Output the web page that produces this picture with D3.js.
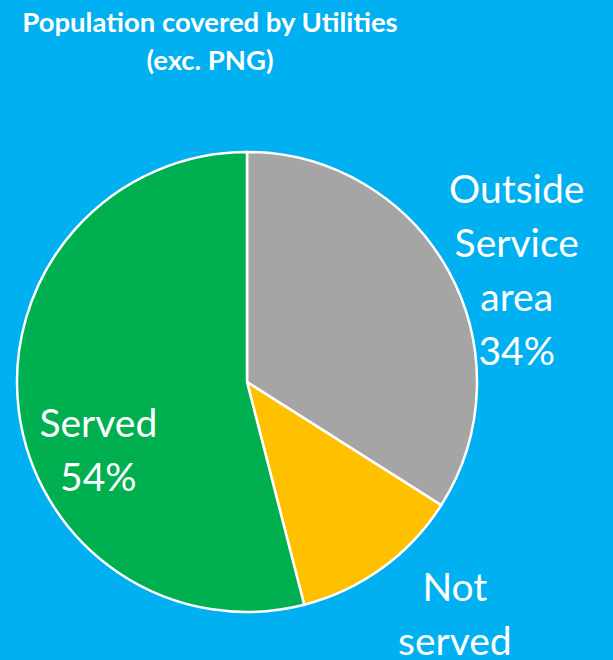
<!DOCTYPE html>
<head>
<meta charset="utf-8">
<title>Population covered by Utilities</title>
<style>
    body {
        margin: 0;
        background: #00b0f0;
    }

    .title {
        fill: white;
        font: bold 27.5px Lato, sans-serif;
        text-anchor: middle;
    }

    .label text {
        fill: white;
        font: 39px Lato, sans-serif;
        text-anchor: middle;
    }

    .slice {
        stroke: white;
        stroke-width: 2.5px;
    }
</style>
</head>
<body>
<svg></svg>
<script src="https://cdn.jsdelivr.net/npm/d3@7"></script>
<script>

    // data
    var categories = ["Outside Service area", "Not served", "Served"];
    var values = [34, 12, 54];
    var colors = ["#a5a5a5", "#ffc000", "#00b050"];
    var labelLines = [
        ["Outside", "Service", "area", "34%"],
        ["Not", "served", "12%"],
        ["Served", "54%"]
    ];
    var titleLines = ["Population covered by Utilities", "(exc. PNG)"];

    var width = 613, height = 660;

    var svg = d3.select("svg")
        .attr("width", width)
        .attr("height", height);

    svg.append("rect")
        .attr("width", width)
        .attr("height", height)
        .attr("fill", "#00b0f0");

    svg.selectAll(".title")
        .data(titleLines)
        .enter().append("text")
        .attr("class", "title")
        .attr("x", 210)
        .attr("y", function (d, i) { return 32 + i * 38; })
        .text(function (d) { return d; });

    var cx = 247, cy = 382, radius = 230;

    var g = svg.append("g")
        .attr("transform", "translate(" + cx + "," + cy + ")");

    var data = categories.map(function (c, i) {
        return {name: c, value: values[i], color: colors[i], lines: labelLines[i]};
    });

    var pie = d3.pie()
        .sort(null)
        .value(function (d) { return d.value; });

    var arc = d3.arc()
        .innerRadius(0)
        .outerRadius(radius);

    var arcs = pie(data);

    g.selectAll(".slice")
        .data(arcs)
        .enter().append("path")
        .attr("class", "slice")
        .attr("fill", function (d) { return d.data.color; })
        .attr("d", arc);

    // label placement: angle shift from slice middle (deg) and distance from centre
    var labelPlace = [
        {shift: 8.8, dist: 287},
        {shift: -1.3, dist: 343},
        {shift: -21.8, dist: 170}
    ];
    var lineHeight = 54;

    var label = g.selectAll(".label")
        .data(arcs)
        .enter().append("g")
        .attr("class", "label")
        .attr("transform", function (d, i) {
            var mid = (d.startAngle + d.endAngle) / 2 + labelPlace[i].shift * Math.PI / 180;
            var r = labelPlace[i].dist;
            return "translate(" + (r * Math.sin(mid)) + "," + (-r * Math.cos(mid)) + ")";
        });

    label.selectAll("text")
        .data(function (d) { return d.data.lines; })
        .enter().append("text")
        .attr("y", function (d, i, nodes) {
            return (i - (nodes.length - 1) / 2) * lineHeight;
        })
        .text(function (d) { return d; });
</script>
</body>
